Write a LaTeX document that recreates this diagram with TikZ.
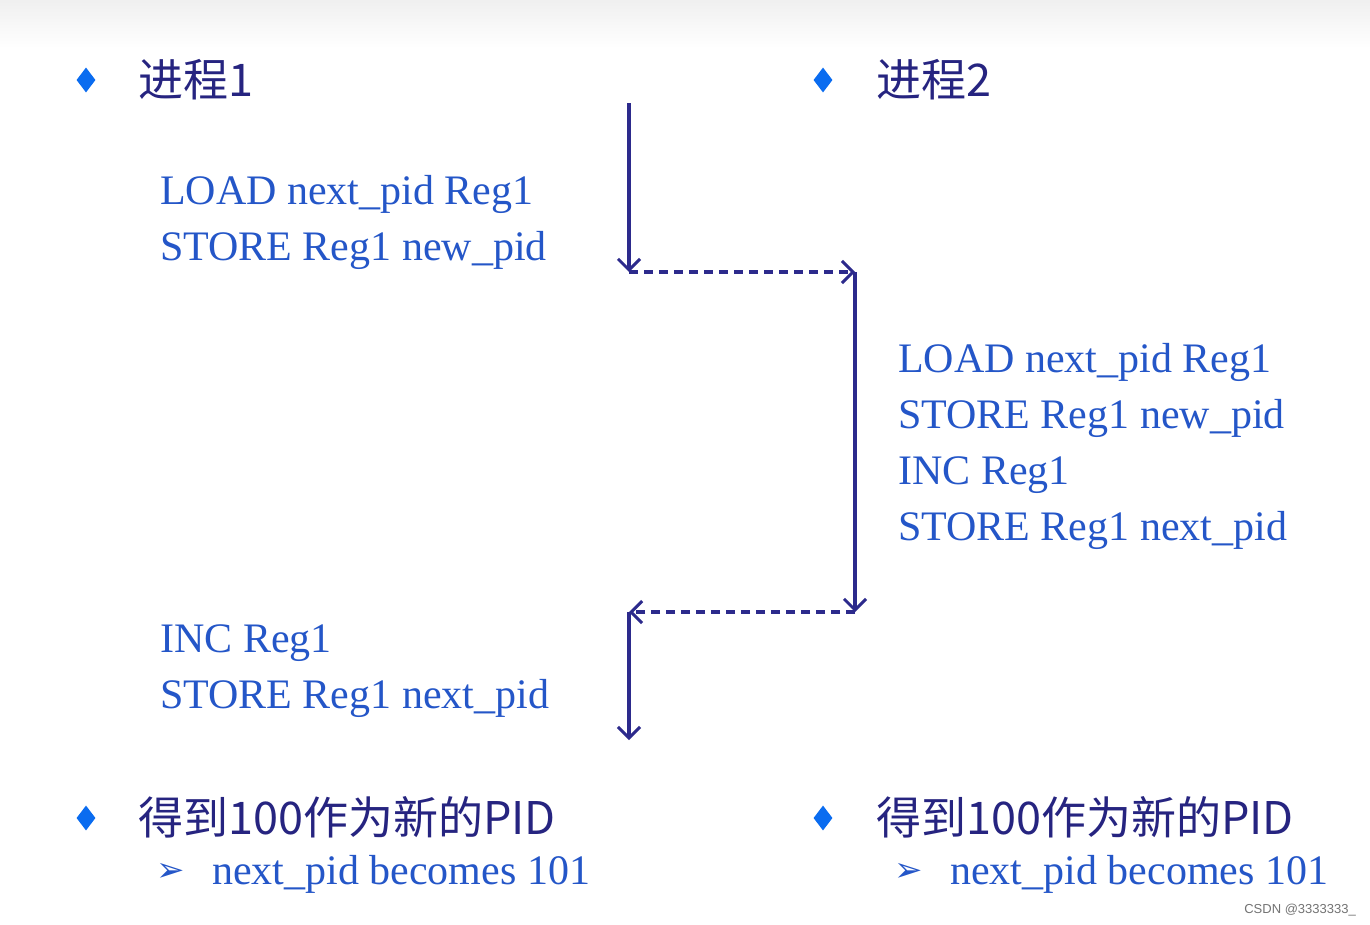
\documentclass[tikz,border=0pt]{standalone}
\usepackage{fontspec}
\setmainfont{Liberation Serif}
\newfontfamily\cjkf{Noto Sans CJK SC}
\newfontfamily\symf{DejaVu Sans}
\newfontfamily\wmf{Liberation Sans}
\usetikzlibrary{arrows.meta,shapes.geometric}
\definecolor{codeblue}{RGB}{36,86,200}
\definecolor{navy}{RGB}{38,36,128}
\definecolor{arrowc}{RGB}{44,42,140}
\definecolor{bulletblue}{RGB}{10,108,240}
\tikzset{
  code/.style={anchor=base west,inner sep=0pt,text=codeblue,font=\fontsize{42}{50}\selectfont},
  head/.style={anchor=base west,inner sep=0pt,text=navy,font=\cjkf\fontsize{45}{54}\selectfont},
  dia/.style={diamond,fill=bulletblue,draw=none,inner sep=0pt,minimum width=19pt,minimum height=25pt},
  subb/.style={anchor=center,inner sep=0pt,text=codeblue,font=\symf\fontsize{34}{40}\selectfont},
  flow/.style={draw=arrowc,line width=3.2pt,-{Straight Barb[length=11pt,width=22pt,line width=3pt]}},
  flowd/.style={flow,dash pattern=on 9pt off 6pt}
}
\begin{document}
\begin{tikzpicture}[x=1pt,y=-1pt]
\useasboundingbox (0,0) rectangle (1370,924);
\fill[white] (0,0) rectangle (1370,924);
\shade[top color=black!6,bottom color=white] (0,0) rectangle (1370,48);
% headings
\node[dia] (b1) at (86,80) {};
\node[head] (h1) at (138,96) {进程1};
\node[dia] (b2) at (823,80) {};
\node[head] (h2) at (876,96) {进程2};
% left code top
\node[code] (l1) at (160,204) {LOAD next\_pid Reg1};
\node[code] (l2) at (160,260) {STORE Reg1 new\_pid};
% right code
\node[code] (r1) at (898,372) {LOAD next\_pid Reg1};
\node[code] (r2) at (898,428) {STORE Reg1 new\_pid};
\node[code] (r3) at (898,484) {INC Reg1};
\node[code] (r4) at (898,540) {STORE Reg1 next\_pid};
% left code bottom
\node[code] (l3) at (160,652) {INC Reg1};
\node[code] (l4) at (160,708) {STORE Reg1 next\_pid};
% bottom headings
\node[dia] (b3) at (86,818) {};
\node[head] (h3) at (138,834) {得到100作为新的PID};
\node[dia] (b4) at (823,818) {};
\node[head] (h4) at (876,834) {得到100作为新的PID};
\node[subb] (s1) at (171,872) {➢};
\node[code] (t1) at (212,884) {next\_pid becomes 101};
\node[subb] (s2) at (909,872) {➢};
\node[code] (t2) at (950,884) {next\_pid becomes 101};
% flow arrows
\coordinate (c0) at (629,103);
\coordinate (c1) at (629,272);
\coordinate (c2) at (855,272);
\coordinate (c3) at (855,612);
\coordinate (c4) at (629,612);
\coordinate (c5) at (629,740);
\draw[flow] (c0) -- (c1);
\draw[flowd] (c1) -- (c2);
\draw[flow] (c2) -- (c3);
\draw[flowd] (c3) -- (c4);
\draw[flow] (c4) -- (c5);
% watermark
\node[anchor=base east,inner sep=0pt,text=black!55,font=\wmf\fontsize{13}{15}\selectfont] (wm) at (1356,913) {CSDN @3333333\_};
\end{tikzpicture}
\end{document}
